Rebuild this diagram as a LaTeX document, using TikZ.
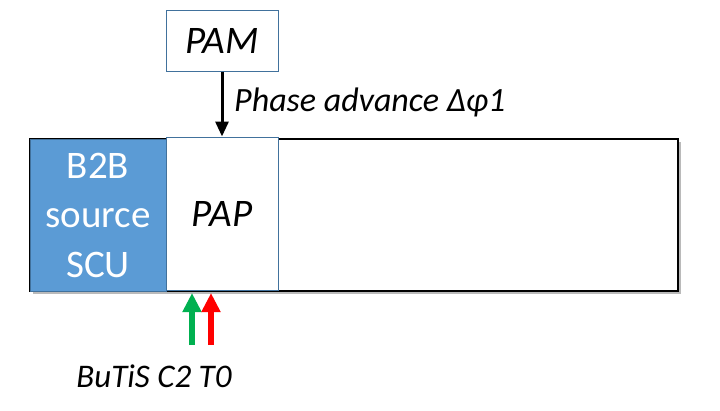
\documentclass[tikz,border=0pt]{standalone}
\usepackage{fontspec}
\setmainfont{Carlito}
\usetikzlibrary{arrows.meta,shadows}
\definecolor{boxblue}{HTML}{5B9BD5}
\definecolor{edgeblue}{HTML}{41719C}
\definecolor{arrgreen}{HTML}{00B050}
\definecolor{arrred}{HTML}{FF0000}
\begin{document}
\begin{tikzpicture}[x=1pt,y=-1pt,
  bigbox/.style={draw=black,line width=1.6pt,fill=white,minimum width=648pt,minimum height=152pt,inner sep=0pt,
     drop shadow={shadow xshift=2.5pt,shadow yshift=-2.5pt,opacity=0.45,fill=black!60}},
  srcbox/.style={draw=edgeblue,line width=0.8pt,fill=boxblue,minimum width=136pt,minimum height=152pt,inner sep=0pt,
     text=white,align=center,font=\fontsize{39}{49.5}\selectfont},
  whitebox/.style={draw=edgeblue,line width=1pt,fill=white,inner sep=0pt,font=\fontsize{39}{47}\selectfont\itshape},
  lbl/.style={font=\fontsize{34}{40}\selectfont\itshape,inner sep=0pt},
  blackarrow/.style={line width=3pt,-{Triangle[width=13pt,length=15pt]}},
  trigarrow/.style={line width=6pt,-{Triangle[width=18pt,length=19pt]}}
]
\useasboundingbox (0,0) rectangle (720,410);
\node[bigbox] (big) at (354,215) {};
\node[srcbox] (src) at (98,215) {B2B\\source\\SCU};
\node[whitebox,minimum width=112pt,minimum height=153pt] (pap) at (222,213.5) {PAP};
\node[whitebox,minimum width=112pt,minimum height=61pt] (pam) at (222,40.5) {PAM};
\draw[blackarrow] (pam.south) -- (pap.north);
\node[lbl,anchor=base west] (phase) at (234,111) {Phase advance Δφ1};
\coordinate (gbot) at (192,345);
\coordinate (gtop) at (192,293);
\coordinate (rbot) at (211,345);
\coordinate (rtop) at (211,293);
\draw[trigarrow,arrgreen] (gbot) -- (gtop);
\draw[trigarrow,arrred] (rbot) -- (rtop);
\node[lbl,font=\fontsize{33}{40}\selectfont\itshape,anchor=base] (butis) at (154,387) {BuTiS C2 T0};
\end{tikzpicture}
\end{document}
